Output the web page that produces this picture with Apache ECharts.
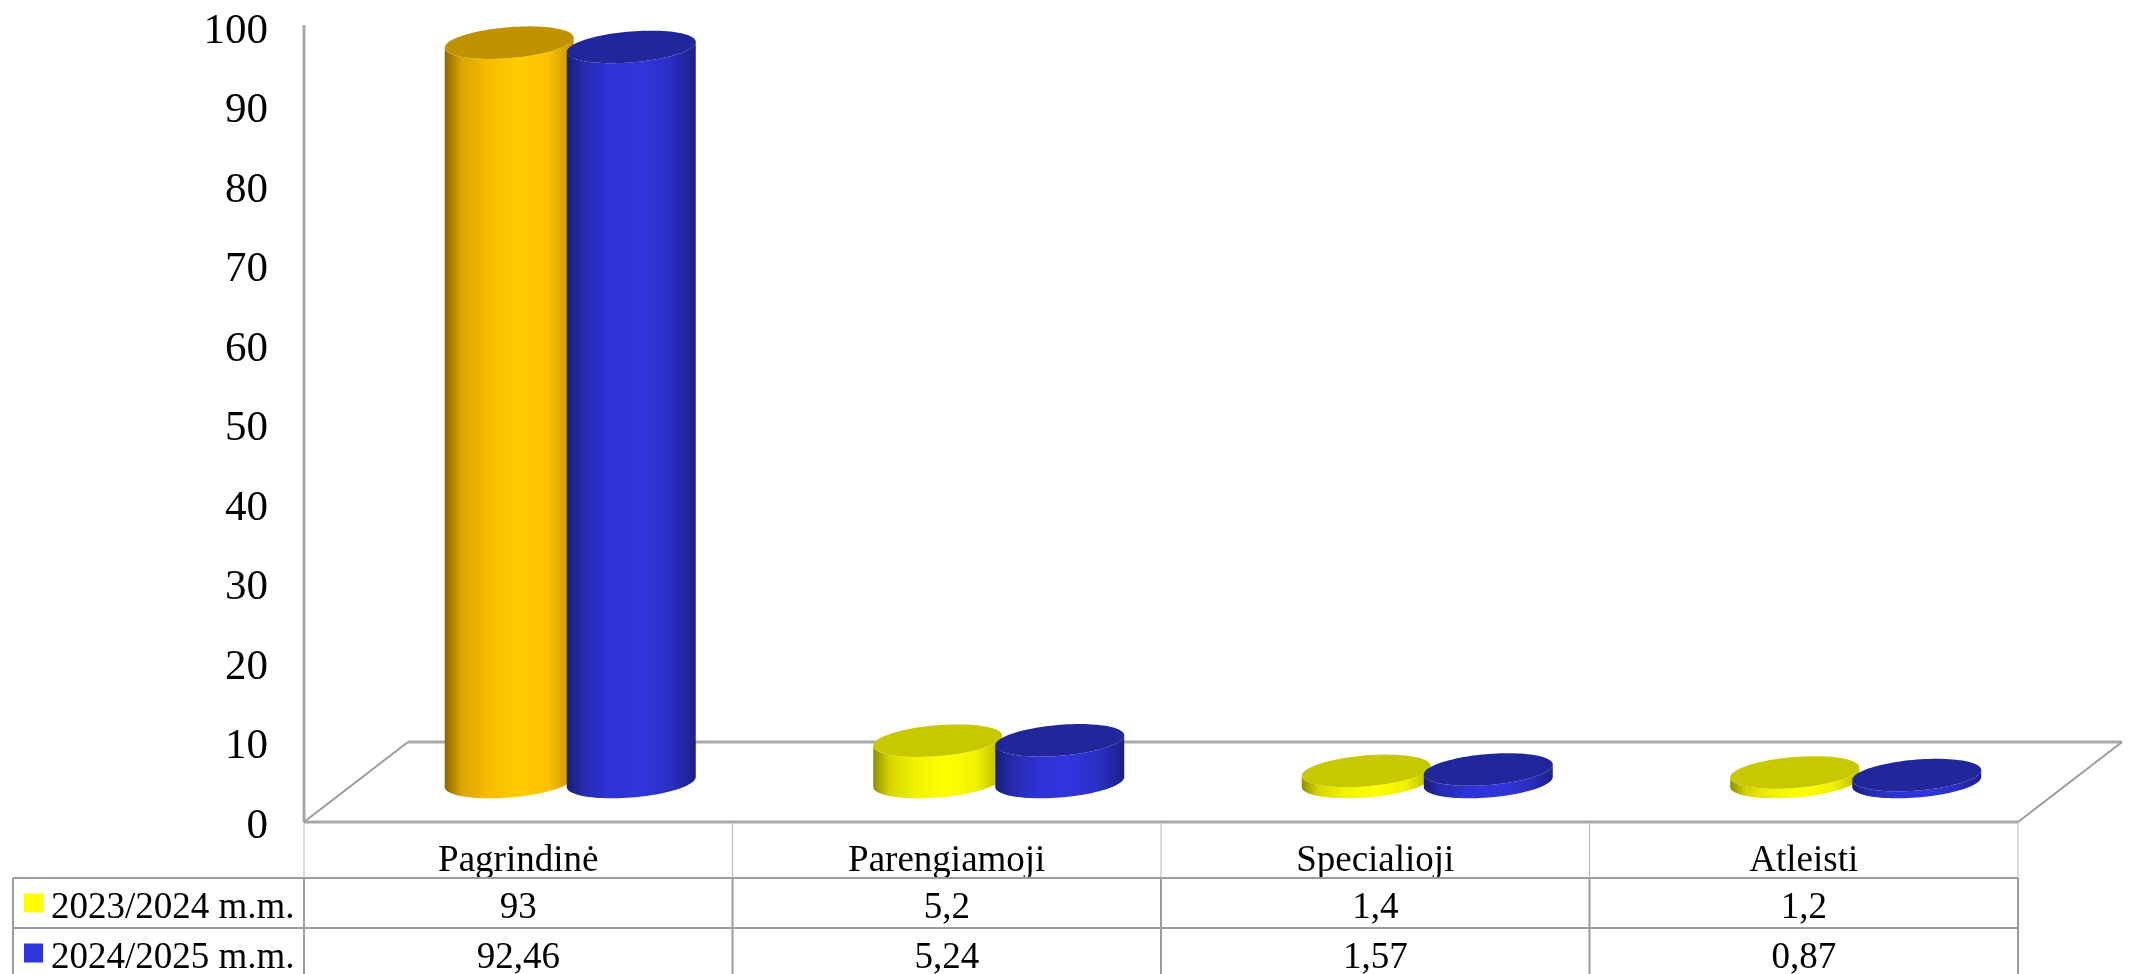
<!DOCTYPE html>
<html>
<head>
<meta charset="utf-8">
<style>html,body{margin:0;padding:0;background:#fff}#c{width:2134px;height:974px}</style>
<script src="https://cdn.jsdelivr.net/npm/echarts@6/dist/echarts.min.js"></script>
</head>
<body>
<div id="c"></div>
<script>
const categories = ['Pagrindinė', 'Parengiamoji', 'Specialioji', 'Atleisti'];
const seriesNames = ['2023/2024 m.m.', '2024/2025 m.m.'];
const values2324 = [93, 5.2, 1.4, 1.2];
const values2425 = [92.46, 5.24, 1.57, 0.87];
const yTicks = [0, 100, 10];

const FONT = '"Liberation Serif","Times New Roman",serif';
const LINE = '#9c9c9c';
const DEPTH_X = 104, DEPTH_Y = 80;

const palettes = {
  yellow: { stops: ['#8f8f00', '#d6d600', '#f2f200', '#ffff00', '#f0f000', '#b8b800'], top: '#c8c800' },
  gold:   { stops: ['#8a6800', '#d9a500', '#f6bc00', '#ffcc00', '#ffc000', '#c09200'], top: '#c09200' },
  blue:   { stops: ['#1a1e74', '#262bb0', '#2e33d5', '#3135dc', '#2a2fc4', '#1c2088'], top: '#21269a' }
};
const stopOffsets = [0, 0.13, 0.33, 0.58, 0.8, 1];

function ellipsePts(cx, cy, a, b, s, from, to, n) {
  const pts = [];
  for (let i = 0; i <= n; i++) {
    const t = from + (to - from) * i / n;
    pts.push([cx + a * Math.cos(t), cy + b * Math.sin(t) - s * Math.cos(t)]);
  }
  return pts;
}

function cylinder(side, paletteOf) {
  return function (params, api) {
    const idx = api.value(0), v = api.value(1);
    const band = api.size([1, 0])[0];
    const a = band * 0.1505, b = 15.5, s = 5;
    const off = band * 0.1424 * side;
    const base = api.coord([idx, 0]);
    const top = api.coord([idx, v]);
    const cx = base[0] + DEPTH_X / 2 + off;
    const by = base[1] - DEPTH_Y / 2;
    const ty = top[1] - DEPTH_Y / 2;
    const p = paletteOf(idx);
    const lower = ellipsePts(cx, by, a, b, s, Math.PI, 0, 48);
    const upperFront = ellipsePts(cx, ty, a, b, s, 0, Math.PI, 48);
    return {
      type: 'group',
      children: [
        {
          type: 'polygon',
          shape: { points: lower.concat(upperFront) },
          style: {
            fill: {
              type: 'linear', x: 0, y: 0, x2: 1, y2: 0,
              colorStops: p.stops.map((color, i) => ({ offset: stopOffsets[i], color }))
            }
          }
        },
        {
          type: 'polygon',
          shape: { points: ellipsePts(cx, ty, a, b, s, 0, Math.PI * 2, 96) },
          style: { fill: p.top }
        }
      ]
    };
  };
}

function lineEl(x1, y1, x2, y2, w, color) {
  return { type: 'line', shape: { x1, y1, x2, y2 }, style: { stroke: color || LINE, lineWidth: w } };
}

function frameItem(params, api) {
  const c = params.coordSys;
  const x0 = c.x, x1 = c.x + c.width, y0 = c.y + c.height;
  const row1 = y0 + 56, row2 = y0 + 106, bottom = 974;
  const kids = [
    lineEl(x0, c.y - 2, x0, y0, 3, '#a8a8a8'),
    lineEl(x0, y0, x1, y0, 3, '#a8a8a8'),
    lineEl(x0 + DEPTH_X, y0 - DEPTH_Y, x1 + DEPTH_X, y0 - DEPTH_Y, 3, '#aaaaaa'),
    lineEl(x0, y0, x0 + DEPTH_X, y0 - DEPTH_Y, 2),
    lineEl(x1, y0, x1 + DEPTH_X, y0 - DEPTH_Y, 2),
    lineEl(13, row1, x1, row1, 2),
    lineEl(13, row2, x1, row2, 2),
    lineEl(13, row1, 13, bottom, 2)
  ];
  for (let i = 0; i <= categories.length; i++) {
    const x = x0 + c.width * i / categories.length;
    kids.push(lineEl(x, y0, x, row1, 1, '#b4b4b4'));
    kids.push(lineEl(x, row1, x, bottom, 2));
  }
  return { type: 'group', children: kids };
}

function tableItem(params, api) {
  const c = params.coordSys;
  const idx = api.value(0);
  const x = api.coord([idx, 0])[0];
  const y0 = c.y + c.height;
  const fmt = v => String(v).replace('.', ',');
  const cell = (v, y) => ({
    type: 'text',
    style: { text: fmt(v), x, y, align: 'center', verticalAlign: 'middle', font: '37px ' + FONT, fill: '#000' }
  });
  return { type: 'group', children: [cell(api.value(1), y0 + 86), cell(api.value(2), y0 + 136)] };
}

const legendBase = {
  left: 24, orient: 'vertical', selectedMode: false, padding: 0,
  icon: 'rect', itemWidth: 19, itemHeight: 19,
  formatter: '{t|{name}}',
  textStyle: {
    rich: { t: { fontFamily: FONT, fontSize: 37, color: '#000', lineHeight: 48, verticalAlign: 'bottom', padding: [0, 0, 0, 3] } }
  }
};

const chart = echarts.init(document.getElementById('c'), null, { renderer: 'canvas' });
chart.setOption({
  animation: false,
  backgroundColor: '#ffffff',
  grid: { left: 304, right: 116, top: 27, bottom: 152, containLabel: false },
  legend: [
    Object.assign({}, legendBase, { top: 890, data: [seriesNames[0]] }),
    Object.assign({}, legendBase, { top: 940, data: [seriesNames[1]] })
  ],
  xAxis: {
    type: 'category', data: categories,
    axisLine: { show: false }, axisTick: { show: false },
    axisLabel: { fontFamily: FONT, fontSize: 37, color: '#000', margin: 21, interval: 0 }
  },
  yAxis: {
    type: 'value', min: yTicks[0], max: yTicks[1], interval: yTicks[2],
    axisLine: { show: false }, axisTick: { show: false }, splitLine: { show: false },
    axisLabel: {
      margin: 36, formatter: '{t|{value}}',
      rich: { t: { fontFamily: FONT, fontSize: 43, color: '#000', lineHeight: 52, verticalAlign: 'bottom' } }
    }
  },
  series: [
    { type: 'custom', name: 'frame', z: 1, silent: true, clip: false, renderItem: frameItem, data: [[0, 0]] },
    {
      type: 'custom', name: seriesNames[0], z: 2, clip: false, itemStyle: { color: '#ffff00' },
      renderItem: cylinder(-1, i => (i === 0 ? palettes.gold : palettes.yellow)),
      encode: { x: 0, y: 1 }, data: values2324.map((v, i) => [i, v])
    },
    {
      type: 'custom', name: seriesNames[1], z: 3, clip: false, itemStyle: { color: '#3034db' },
      renderItem: cylinder(1, () => palettes.blue),
      encode: { x: 0, y: 1 }, data: values2425.map((v, i) => [i, v])
    },
    {
      type: 'custom', name: 'table', z: 4, silent: true, clip: false, renderItem: tableItem,
      encode: { x: 0 }, data: categories.map((_, i) => [i, values2324[i], values2425[i]])
    }
  ]
});
</script>
</body>
</html>
